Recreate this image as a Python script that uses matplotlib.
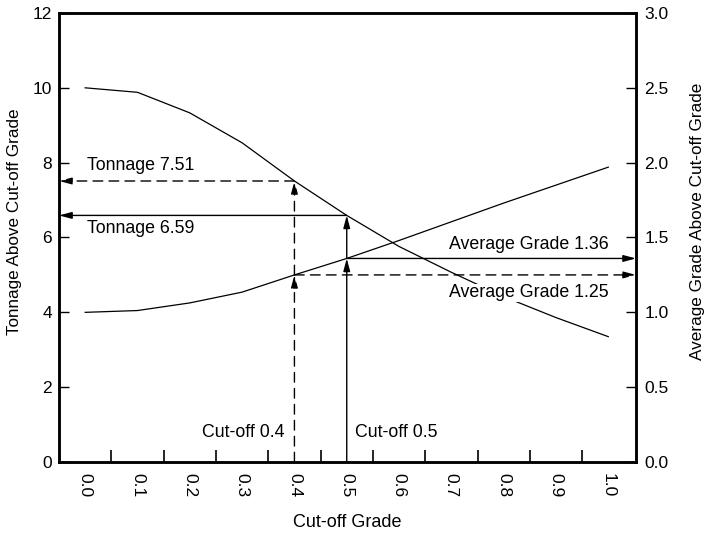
import matplotlib
matplotlib.use("Agg")
import matplotlib.pyplot as plt
from matplotlib.ticker import FixedLocator

plt.rcParams['font.family'] = ['Liberation Sans', 'DejaVu Sans']

cutoff = [0.0, 0.1, 0.2, 0.3, 0.4, 0.5, 0.6, 0.7, 0.8, 0.9, 1.0]
tonnage = [10.0, 9.88, 9.33, 8.53, 7.51, 6.59, 5.76, 5.07, 4.42, 3.86, 3.35]
grade = [1.0, 1.012, 1.063, 1.135, 1.25, 1.36, 1.48, 1.605, 1.73, 1.85, 1.97]
xtick_labels = ["0.0", "0.1", "0.2", "0.3", "0.4", "0.5", "0.6", "0.7", "0.8", "0.9", "1.0"]
minor_ticks = [0.05, 0.15, 0.25, 0.35, 0.45, 0.55, 0.65, 0.75, 0.85, 0.95]
left_ticks = [0, 2, 4, 6, 8, 10, 12]
right_ticks = [0.0, 0.5, 1.0, 1.5, 2.0, 2.5, 3.0]

cut_a, ton_a, gr_a = 0.4, 7.51, 1.25
cut_b, ton_b, gr_b = 0.5, 6.59, 1.36

fig = plt.figure(figsize=(7.07, 5.34), dpi=100)
ax = fig.add_axes([0.0835, 0.1348, 0.8161, 0.8409])
ax2 = ax.twinx()

ax.set_xlim(-0.05, 1.053)
ax.set_ylim(0, 12)
ax2.set_ylim(0, 3.0)

ax.plot(cutoff, tonnage, color='black', lw=0.9)
ax2.plot(cutoff, grade, color='black', lw=0.9)

for sp in ax.spines.values():
    sp.set_linewidth(1.8)
for sp in ax2.spines.values():
    sp.set_linewidth(1.8)

ax.set_xticks(cutoff)
ax.set_xticklabels(xtick_labels, rotation=-90, fontsize=12.5)
ax.xaxis.set_minor_locator(FixedLocator(minor_ticks))
ax.tick_params(axis='x', which='major', length=0, pad=8)
ax.tick_params(axis='x', which='minor', direction='in', length=9, width=1.2)
ax.set_yticks(left_ticks)
ax.tick_params(axis='y', direction='in', length=7.5, width=1.0, pad=5, labelsize=12.5)
ax2.set_yticks(right_ticks)
ax2.set_yticklabels([f"{v:.1f}" for v in right_ticks])
ax2.tick_params(axis='y', direction='in', length=7.5, width=1.0, pad=6, labelsize=12.5)

ax.set_xlabel("Cut-off Grade", fontsize=13, labelpad=12)
ax.set_ylabel("Tonnage Above Cut-off Grade", fontsize=12.3)
ax2.set_ylabel("Average Grade Above Cut-off Grade", fontsize=12.3)
ax.yaxis.set_label_coords(-0.064, 0.535)
ax2.yaxis.set_label_coords(1.094, 0.535)

dash = (0, (7, 4.5))
def arrow(axis, start, end, ls='-'):
    axis.annotate("", xy=end, xytext=start, xycoords='data', textcoords='data',
                  arrowprops=dict(arrowstyle='-|>,head_length=0.75,head_width=0.2',
                                  color='black', lw=1.0, linestyle=ls,
                                  shrinkA=0, shrinkB=0, mutation_scale=10),
                  annotation_clip=False)

xl, xr = ax.get_xlim()
# cut-off 0.4 (dashed)
arrow(ax2, (cut_a, 0), (cut_a, gr_a), dash)
arrow(ax2, (cut_a, gr_a), (cut_a, ton_a / 4.0), dash)
arrow(ax, (cut_a, ton_a), (xl, ton_a), dash)
arrow(ax2, (cut_a, gr_a), (xr, gr_a), dash)
# cut-off 0.5 (solid)
arrow(ax2, (cut_b, 0), (cut_b, gr_b))
arrow(ax2, (cut_b, gr_b), (cut_b, ton_b / 4.0))
arrow(ax, (cut_b, ton_b), (xl, ton_b))
arrow(ax2, (cut_b, gr_b), (xr, gr_b))

fs = 12.8
ax.text(0.003, 7.93, f"Tonnage {ton_a:.2f}", fontsize=fs, va='center', ha='left')
ax.text(0.003, 6.23, f"Tonnage {ton_b:.2f}", fontsize=fs, va='center', ha='left')
ax2.text(1.0, 1.45, f"Average Grade {gr_b:.2f}", fontsize=fs, va='center', ha='right')
ax2.text(1.0, 1.13, f"Average Grade {gr_a:.2f}", fontsize=fs, va='center', ha='right',
         bbox=dict(facecolor='white', edgecolor='none', pad=0.5))
ax.text(0.381, 0.78, f"Cut-off {cut_a}", fontsize=fs, va='center', ha='right')
ax.text(0.515, 0.78, f"Cut-off {cut_b}", fontsize=fs, va='center', ha='left')

fig.savefig("out.png", dpi=100)
